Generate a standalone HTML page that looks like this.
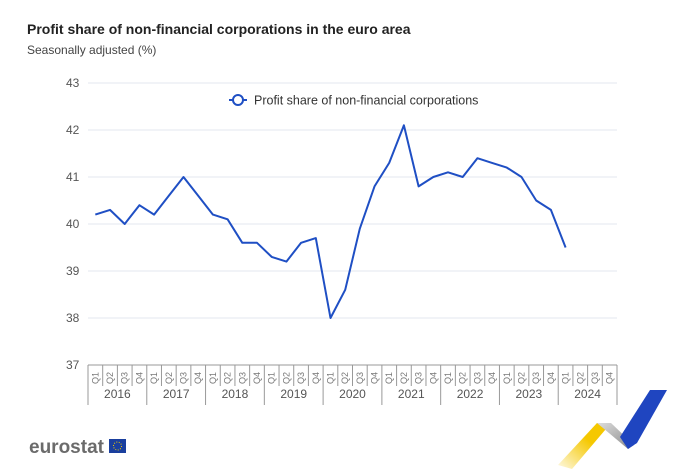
<!DOCTYPE html>
<html><head><meta charset="utf-8"><style>
body{margin:0;width:680px;height:469px;background:#fff;font-family:"Liberation Sans",sans-serif;overflow:hidden}
</style></head><body>
<svg width="680" height="469">
<defs><linearGradient id="yg" x1="0" y1="1" x2="1" y2="0"><stop offset="0" stop-color="#f5c800" stop-opacity="0.1"/><stop offset="0.6" stop-color="#f5c800"/></linearGradient>
<linearGradient id="gg" x1="0" y1="0" x2="1" y2="1"><stop offset="0" stop-color="#ddd"/><stop offset="1" stop-color="#888"/></linearGradient></defs>
<text x="27" y="34" font-size="14" font-weight="bold" fill="#222">Profit share of non-financial corporations in the euro area</text>
<text x="27" y="54" font-size="12" fill="#444">Seasonally adjusted (%)</text>
<g id="grid"></g><g id="xaxis"></g>
<g>
<line x1="229" y1="100" x2="247" y2="100" stroke="#1f4fc4" stroke-width="2"/>
<circle cx="238" cy="100" r="5" fill="#fff" stroke="#1f4fc4" stroke-width="2"/>
<text x="254" y="104.5" font-size="12.5" fill="#333">Profit share of non-financial corporations</text>
</g>
<path id="line" fill="none" stroke="#1f4fc4" stroke-width="2" stroke-linejoin="round"/>
<text x="29" y="453" font-size="19" font-weight="bold" fill="#6b6b6b">eurostat</text>
<rect x="109" y="439" width="17" height="14" fill="#1a3f9e"/>
<circle cx="117.5" cy="446" r="4" fill="none" stroke="#f5d000" stroke-width="1" stroke-dasharray="1 1.5"/>
<g>
<polygon points="558,465 597,423 611,423 572,469" fill="url(#yg)"/>
<polygon points="597,423 611,423 634,445 628,449" fill="url(#gg)"/>
<polygon points="628,449 620,437 650,390 667,390 637,443" fill="#1f45c0"/>
</g>
</svg>
<script>
const years=["2016","2017","2018","2019","2020","2021","2022","2023","2024"];
const quarters=["Q1","Q2","Q3","Q4"];
const yTicks=[37,38,39,40,41,42,43];
const values=[40.2,40.3,40.0,40.4,40.2,40.6,41.0,40.6,40.2,40.1,39.6,39.6,39.3,39.2,39.6,39.7,38.0,38.6,39.9,40.8,41.3,42.1,40.8,41.0,41.1,41.0,41.4,41.3,41.2,41.0,40.5,40.3,39.5,null,null,null];
const X0=88,X1=617,Y0=365,Y1=83;
const n=years.length*4,qw=(X1-X0)/n;
const x=i=>X0+qw*(i+0.5);
const y=v=>Y0-(v-37)/(43-37)*(Y0-Y1);
const ns="http://www.w3.org/2000/svg";
function mk(t,a,p){const e=document.createElementNS(ns,t);for(const k in a)e.setAttribute(k,a[k]);p.appendChild(e);return e;}
const g=document.getElementById('grid');
yTicks.forEach(v=>{
 if(v>37){const l=mk('line',{x1:X0,x2:X1,y1:y(v),y2:y(v),stroke:'#e3e7ef','stroke-width':1},g);
 
 }
 const t=mk('text',{x:66,y:y(v)+4,'font-size':12,fill:'#555'},g);t.textContent=v;
 
 
});
const xa=document.getElementById('xaxis');
mk('line',{x1:X0,x2:X1,y1:Y0,y2:Y0,stroke:'#999'},xa);
for(let i=0;i<=n;i++){
 const xx=X0+qw*i;const big=i%4==0;
 mk('line',{x1:xx,x2:xx,y1:Y0,y2:big?405:386,stroke:'#999'},xa);
 if(i<n){const t=mk('text',{x:0,y:0,'font-size':9,fill:'#777',transform:`translate(${x(i)+3},384) rotate(-90)`},xa);t.textContent=quarters[i%4];
 
 }
}
years.forEach((yr,j)=>{const t=mk('text',{x:X0+qw*(j*4+2),y:398,'font-size':12,fill:'#555','text-anchor':'middle'},xa);t.textContent=yr;
 
 });
let d='';values.forEach((v,i)=>{if(v!=null)d+=(d?'L':'M')+x(i).toFixed(1)+','+y(v).toFixed(1);});
document.getElementById('line').setAttribute('d',d);
</script>
</body></html>
